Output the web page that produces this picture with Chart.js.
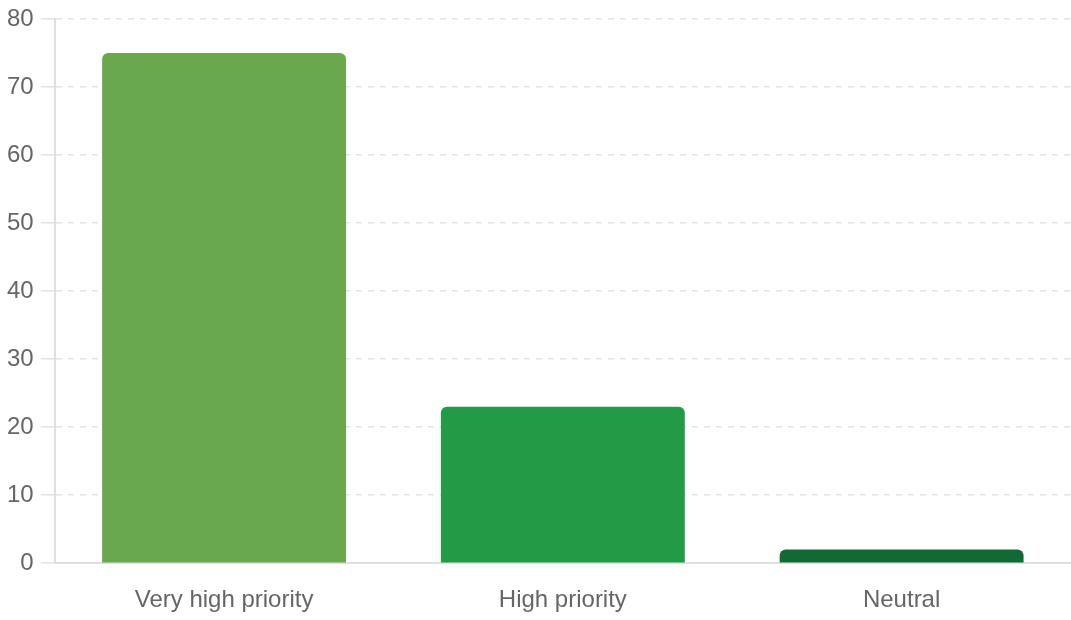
<!DOCTYPE html>
<html>
<head>
<meta charset="utf-8">
<script src="https://cdn.jsdelivr.net/npm/chart.js@4"></script>
<style>
  html, body { margin: 0; padding: 0; background: #fff; }
  #wrap { width: 1071px; height: 620px; }
</style>
</head>
<body>
<div id="wrap"><canvas id="priority"></canvas></div>
<script>
var categories = ["Very high priority", "High priority", "Neutral"];
var values = [75, 23, 2];
var barColors = ['#6aa84f', '#239b46', '#0f6b33'];
var yTicks = [0, 10, 20, 30, 40, 50, 60, 70, 80];

var ctx = document.getElementById('priority').getContext('2d');

var chart = new Chart(ctx, {
    type: 'bar',
    data: {
        labels: categories,
        datasets: [{
            backgroundColor: barColors,
            borderRadius: 6,
            borderSkipped: 'bottom',
            data: values,
        }]
    },
    options: {
        responsive: true,
        maintainAspectRatio: false,
        animation: false,
        layout: { padding: { top: 4, right: 0, left: 0, bottom: -10 } },
        plugins: {
            legend: { display: false },
            tooltip: { enabled: false }
        },
        scales: {
            x: {
                grid: { display: false },
                border: { color: '#e0e0e0', width: 2 },
                ticks: { color: '#666', font: { family: 'Liberation Sans, Arial', size: 24 }, padding: 15 }
            },
            y: {
                min: 0,
                max: 80,
                afterBuildTicks: function (axis) {
                    axis.ticks = yTicks.map(function (v) { return { value: v }; });
                },
                grid: {
                    color: '#e3e3e3',
                    lineWidth: 1.5,
                    tickLength: 14,
                    tickBorderDash: [],
                    drawOnChartArea: true
                },
                border: { color: '#e0e0e0', width: 2, dash: [6, 6] },
                ticks: { color: '#666', font: { family: 'Liberation Sans, Arial', size: 24, lineHeight: 1.0 }, padding: 7 }
            }
        }
    }
});
</script>
</body>
</html>
